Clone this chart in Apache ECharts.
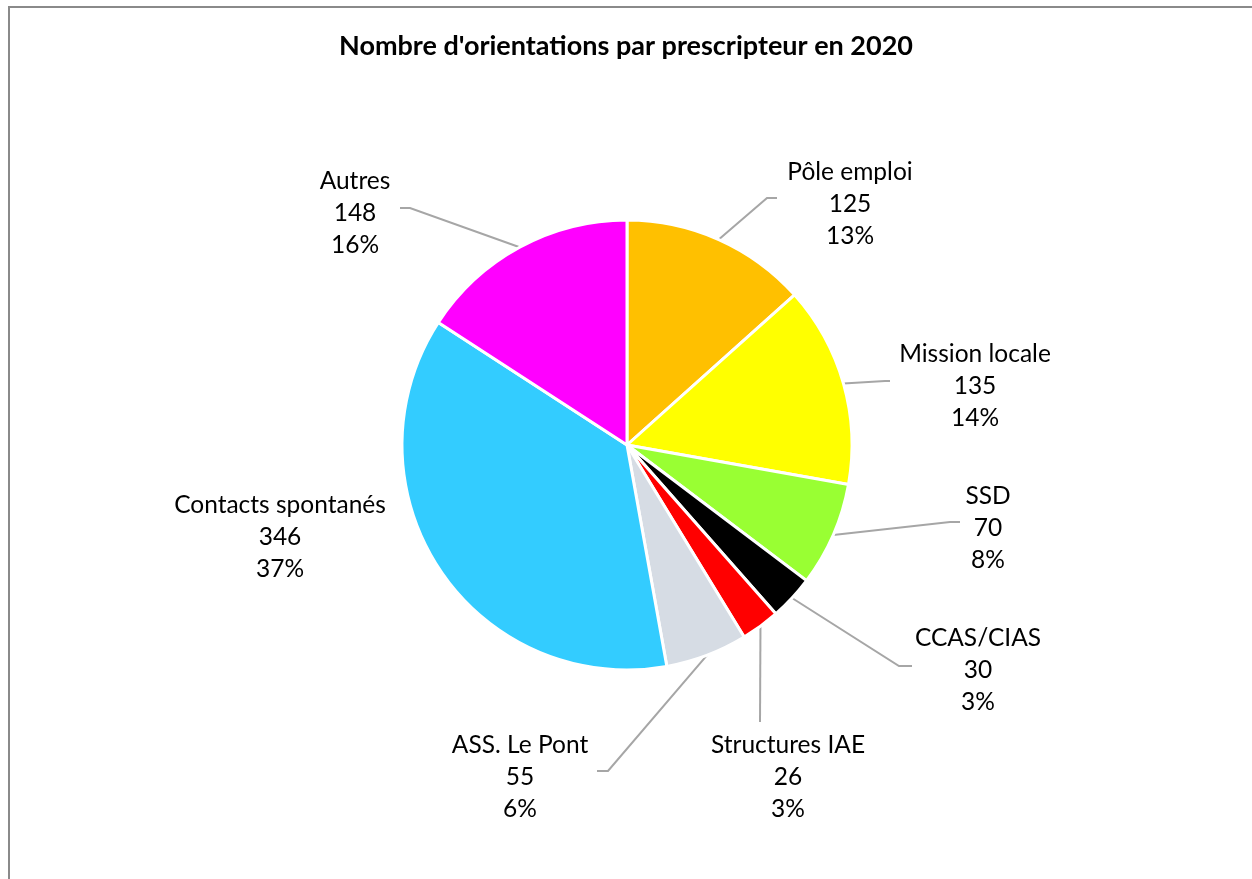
<!DOCTYPE html>
<html>
<head>
<meta charset="utf-8">
<title>Nombre d'orientations par prescripteur en 2020</title>
<script src="https://cdn.jsdelivr.net/npm/echarts@6/dist/echarts.min.js"></script>
<style>
  html, body { margin: 0; padding: 0; background: #ffffff; }
  #chart { width: 1252px; height: 879px; }
</style>
</head>
<body>
<div id="chart"></div>
<script>
// Orientations per prescriber, 2020
const categories = [
  'Pôle emploi', 'Mission locale', 'SSD', 'CCAS/CIAS',
  'Structures IAE', 'ASS. Le Pont', 'Contacts spontanés', 'Autres'
];
const counts = [125, 135, 70, 30, 26, 55, 346, 148];
const sliceColors = [
  '#FFC000', '#FFFF00', '#99FF33', '#000000',
  '#FF0000', '#D6DCE4', '#33CCFF', '#FF00FF'
];
const titleText = "Nombre d'orientations par prescripteur en 2020";

// Pie geometry (px)
const CX = 627, CY = 445, R = 225;

// Label placement relative to the pie centre: [dx, dy] of the label's middle,
// plus the bend/end points of each leader line (null = no leader line).
const labelPlacement = [
  { at: [223, -241], line: [[140, -247], [150, -247]] },
  { at: [348, -59],  line: [[258, -64], [263, -64]] },
  { at: [361, 83],   line: [[323, 77], [333, 77]] },
  { at: [351, 225],  line: [[272, 221], [285, 221]] },
  { at: [161, 332],  line: [[133, 277], [133, 277]] },
  { at: [-107, 332], line: [[-19, 326], [-30, 326]] },
  { at: [-347, 92],  line: null },
  { at: [-272, -232], line: [[-217, -237], [-227, -237]] }
];

const FONT = 'Lato, "Open Sans", sans-serif';

const chart = echarts.init(document.getElementById('chart'), null, { renderer: 'canvas' });

const pieData = categories.map((name, i) => ({
  name: name,
  value: counts[i],
  itemStyle: { color: sliceColors[i] },
  labelLine: { show: labelPlacement[i].line !== null }
}));

chart.setOption({
  animation: false,
  backgroundColor: '#ffffff',
  title: {
    text: titleText,
    left: 'center',
    top: 28,
    textStyle: {
      fontFamily: FONT,
      fontWeight: 'bold',
      fontSize: 27,
      color: '#000000'
    }
  },
  graphic: [{
    type: 'rect',
    silent: true,
    shape: { x: 9, y: 7, width: 1400, height: 1000 },
    style: { fill: 'none', stroke: '#8a8a8a', lineWidth: 2 }
  }],
  series: [{
    type: 'pie',
    center: [CX, CY],
    radius: R,
    startAngle: 90,
    clockwise: true,
    avoidLabelOverlap: false,
    percentPrecision: 0,
    itemStyle: { borderColor: '#ffffff', borderWidth: 3 },
    label: {
      show: true,
      position: 'outside',
      formatter: '{b}\n{c}\n{d}%',
      fontFamily: FONT,
      fontSize: 24.5,
      lineHeight: 32,
      color: '#000000',
      align: 'center'
    },
    labelLine: {
      show: true,
      lineStyle: { color: '#A6A6A6', width: 2 }
    },
    labelLayout: function (params) {
      const p = labelPlacement[params.dataIndex];
      const out = {
        x: CX + p.at[0],
        y: CY + p.at[1],
        align: 'center',
        verticalAlign: 'middle'
      };
      if (p.line && params.labelLinePoints) {
        const start = params.labelLinePoints[0];
        out.labelLinePoints = [
          [start[0], start[1]],
          [CX + p.line[0][0], CY + p.line[0][1]],
          [CX + p.line[1][0], CY + p.line[1][1]]
        ];
      }
      return out;
    },
    data: pieData
  }]
});
</script>
</body>
</html>
